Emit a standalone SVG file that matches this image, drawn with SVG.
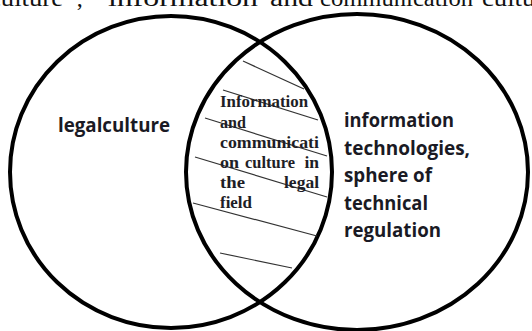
<svg xmlns="http://www.w3.org/2000/svg" width="532" height="331" viewBox="0 0 532 331">
<style>
.top{font-family:"Liberation Serif",serif;font-size:24px;fill:#111}
.ring{fill:none;stroke:#000;stroke-width:4}
.hatch{stroke:#333;stroke-width:1.2;fill:none}
.lbl{font-family:"Open Sans","Noto Sans",sans-serif;font-weight:bold;font-size:19px;fill:#1a1a24}
.mid{font-family:"Liberation Serif",serif;font-weight:bold;font-size:17.5px;fill:#1e1e26}
</style>
<rect width="532" height="331" fill="#fff"/>
<g id="caption">
<text class="top" x="-11" y="5.5" textLength="74" lengthAdjust="spacingAndGlyphs">culture</text>
<text class="top" x="66" y="5.5">”,</text>
<text class="top" x="95" y="5.5">“</text>
<text class="top" x="108" y="5.5" textLength="150" lengthAdjust="spacingAndGlyphs">information</text>
<text class="top" x="270" y="5.5" textLength="43" lengthAdjust="spacingAndGlyphs">and</text>
<text class="top" x="320" y="5.5" textLength="153" lengthAdjust="spacingAndGlyphs">communication</text>
<text class="top" x="482" y="5.5" textLength="74" lengthAdjust="spacingAndGlyphs">culture</text>
</g>
<g id="legal-culture">
<ellipse class="ring" cx="171" cy="172" rx="161" ry="156"/>
<text class="lbl" x="58" y="132" textLength="112" lengthAdjust="spacingAndGlyphs">legalculture</text>
</g>
<g id="information-technologies">
<ellipse class="ring" cx="357" cy="172" rx="171" ry="158"/>
<text class="lbl" x="344" y="127" textLength="110" lengthAdjust="spacingAndGlyphs">information</text>
<text class="lbl" x="344" y="154.5" textLength="126" lengthAdjust="spacingAndGlyphs">technologies,</text>
<text class="lbl" x="344" y="182" textLength="88" lengthAdjust="spacingAndGlyphs">sphere of</text>
<text class="lbl" x="344" y="209.5" textLength="84" lengthAdjust="spacingAndGlyphs">technical</text>
<text class="lbl" x="344" y="237" textLength="97" lengthAdjust="spacingAndGlyphs">regulation</text>
</g>
<g id="intersection">
<g id="hatching">
<line class="hatch" x1="243" y1="61" x2="304" y2="89"/>
<line class="hatch" x1="223" y1="90" x2="318" y2="120"/>
<line class="hatch" x1="205" y1="118" x2="327" y2="156"/>
<line class="hatch" x1="195" y1="157" x2="327" y2="197"/>
<line class="hatch" x1="193" y1="203" x2="317" y2="236"/>
<line class="hatch" x1="220" y1="253" x2="292" y2="268"/>
</g>
<text class="mid" x="220" y="107" textLength="88" lengthAdjust="spacingAndGlyphs">Information</text>
<text class="mid" x="220" y="128" textLength="26" lengthAdjust="spacingAndGlyphs">and</text>
<text class="mid" x="220" y="148" textLength="99" lengthAdjust="spacingAndGlyphs">communicati</text>
<text class="mid" x="220" y="168" textLength="19" lengthAdjust="spacingAndGlyphs">on</text>
<text class="mid" x="245" y="168" textLength="50" lengthAdjust="spacingAndGlyphs">culture</text>
<text class="mid" x="319" y="168" text-anchor="end">in</text>
<text class="mid" x="220" y="188" textLength="25" lengthAdjust="spacingAndGlyphs">the</text>
<text class="mid" x="319" y="188" text-anchor="end">legal</text>
<text class="mid" x="220" y="208" textLength="32" lengthAdjust="spacingAndGlyphs">field</text>
</g>
</svg>
